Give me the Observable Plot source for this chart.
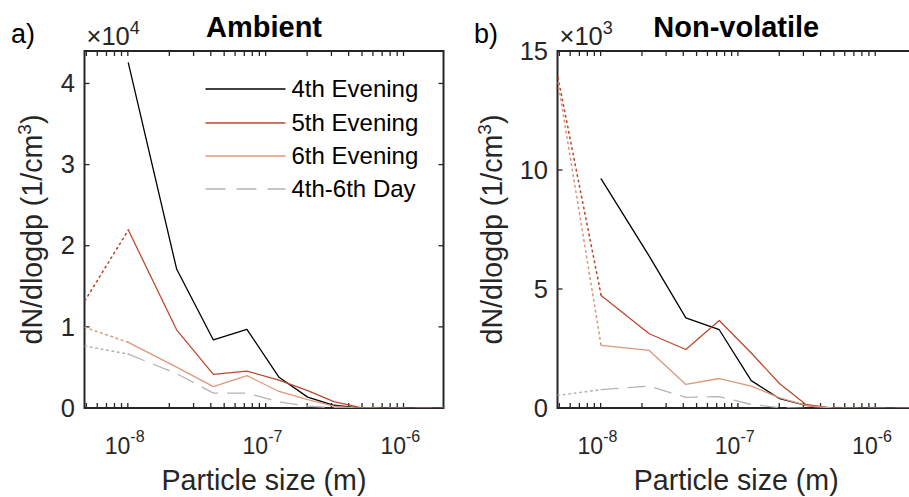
<!DOCTYPE html>
<html><head><meta charset="utf-8">
<script src="https://cdn.jsdelivr.net/npm/d3@7"></script>
<script src="https://cdn.jsdelivr.net/npm/@observablehq/plot@0.6"></script>
<style>
html,body{margin:0;padding:0;background:#fff;overflow:hidden;}
#root{position:relative;width:909px;height:497px;overflow:hidden;font-family:"Liberation Sans",Arial,sans-serif;}
#root svg{position:absolute;top:0;overflow:visible;}
</style></head><body><div id="root"></div>
<script>
// Particle size bins (m)
const sizes = [4.85e-9, 1e-8, 2.24e-8, 4.14e-8, 7.25e-8, 1.24e-7, 2.0e-7, 3.1e-7, 4.85e-7, 7.7e-7, 1.22e-6, 1.95e-6];
const seriesNames = ["4th Evening", "5th Evening", "6th Evening", "4th-6th Day"];
const seriesColors = ["#000000", "#bb4a2f", "#dc987c", "#b4b4b4"];

// a) Ambient, dN/dlogdp (1/cm^3)
const amb4th  = [NaN, 42600, 17200, 8450, 9750, 3850, 1400, 400, 50, 0, 0, 0];
const amb5th  = [13300, 22000, 9700, 4200, 4600, 3500, 2200, 850, 100, 0, 0, 0];
const amb6th  = [10000, 8150, 5100, 2700, 4050, 2100, 1100, 300, 20, 0, 0, 0];
const ambDay  = [7700, 6700, 4300, 1900, 1900, 800, 300, 100, 0, 0, 0, 0];

// b) Non-volatile, dN/dlogdp (1/cm^3)
const nv4th = [NaN, 9650, 6400, 3810, 3310, 1170, 410, 130, 20, 0, 0, 0];
const nv5th = [13900, 4750, 3140, 2480, 3700, 2330, 1040, 170, 20, 0, 0, 0];
const nv6th = [13700, 2650, 2440, 1010, 1260, 940, 450, 130, 10, 0, 0, 0];
const nvDay = [550, 790, 940, 470, 500, 170, 40, 0, 0, 0, 0, 0];

const xDomain = [4.85e-9, 1.95e-6];
const xMajor = [1e-8, 1e-7, 1e-6];
const ambYTicks = [0, 1e4, 2e4, 3e4, 4e4];
const nvYTicks = [0, 5e3, 10e3, 15e3];

const AX = "#262626";
const FONT = "Liberation Sans, Arial, Helvetica, sans-serif";

const xMinor = [];
for (let e = -9; e <= -6; e++) for (let k = 1; k <= 9; k++) {
  const v = k * Math.pow(10, e);
  if (v > xDomain[0] * 1.001 && v < xDomain[1] * 0.999) xMinor.push(v);
}

function panel({vals, yDomain, yTicks, yScaleDiv, left, width, mL, mR, exp, title, letter, legend}) {
  const mT = 51, mB = 89, H = 497;
  const fh = H - mT - mB, fw = width - mL - mR;
  const marks = [];
  vals.forEach((arr, si) => {
    const pts = arr.map((v, i) => ({x: sizes[i], y: v, i})).filter(d => !isNaN(d.y));
    const dotted = pts.filter(d => d.i <= 1);
    const main = pts.filter(d => d.i >= 1);
    const color = seriesColors[si];
    if (dotted.length === 2)
      marks.push(Plot.line(dotted, {x: "x", y: "y", stroke: color, strokeWidth: 1.6, strokeDasharray: "1.5,4", clip: true}));
    marks.push(Plot.line(main, {x: "x", y: "y", stroke: color, strokeWidth: 1.3,
      strokeDasharray: si === 3 ? "17,10" : null, clip: true}));
  });
  // x tick labels
  marks.push(Plot.text(xMajor, {x: d => d, frameAnchor: "bottom", text: () => "10", textAnchor: "end",
    lineAnchor: "bottom", dx: 2, dy: 45, fontSize: 23, fill: AX}));
  marks.push(Plot.text(xMajor, {x: d => d, frameAnchor: "bottom", text: d => String(Math.round(Math.log10(d))).replace("−", "-"),
    textAnchor: "start", lineAnchor: "bottom", dx: 2, dy: 33, fontSize: 16, fill: AX}));
  // y tick labels
  marks.push(Plot.text(yTicks, {y: d => d, frameAnchor: "left", text: d => String(d / yScaleDiv), textAnchor: "end",
    dx: -10, fontSize: 25.5, fill: AX}));

  const svg = Plot.plot({
    width, height: H, marginLeft: mL, marginRight: mR, marginTop: mT, marginBottom: mB,
    x: {type: "log", domain: xDomain, axis: null},
    y: {domain: yDomain, axis: null},
    style: {fontFamily: FONT, background: "transparent", overflow: "visible"},
    marks
  });
  svg.style.left = left + "px";
  const s = d3.select(svg);
  const X = v => svg.scale("x").apply(v), Y = v => svg.scale("y").apply(v);
  const x0 = mL, x1 = width - mR, y0 = mT, y1 = H - mB, tick = 5;
  // axes box and inward ticks (drawn beneath the data)
  const ax = s.insert("g", ":first-child").attr("stroke", AX).attr("fill", "none");
  xMinor.forEach(v => {
    const px = X(v);
    ax.append("line").attr("x1", px).attr("x2", px).attr("y1", y1).attr("y2", y1 - tick).attr("stroke-width", 1.3);
    ax.append("line").attr("x1", px).attr("x2", px).attr("y1", y0).attr("y2", y0 + tick).attr("stroke-width", 1.3);
  });
  yTicks.forEach(v => {
    const py = Y(v);
    ax.append("line").attr("x1", x0).attr("x2", x0 + tick).attr("y1", py).attr("y2", py).attr("stroke-width", 1.3);
    ax.append("line").attr("x1", x1).attr("x2", x1 - tick).attr("y1", py).attr("y2", py).attr("stroke-width", 1.3);
  });
  ax.append("rect").attr("x", x0).attr("y", y0).attr("width", x1 - x0).attr("height", y1 - y0).attr("stroke-width", 2);

  const cx = mL + fw / 2;
  // title
  s.append("text").attr("x", cx).attr("y", 37).attr("text-anchor", "middle")
    .attr("font-size", 29).attr("font-weight", "bold").attr("fill", "#000").text(title);
  // panel letter
  s.append("text").attr("x", letter.x).attr("y", 43).attr("text-anchor", "start")
    .attr("font-size", 27).attr("fill", "#000").text(letter.t);
  // exponent
  const e = s.append("text").attr("x", mL + 2).attr("y", 44.5).attr("text-anchor", "start")
    .attr("font-size", 25.5).attr("fill", AX);
  e.append("tspan").text("×10");
  e.append("tspan").attr("dy", -11).attr("font-size", 18).text(exp);
  // x label
  s.append("text").attr("x", cx).attr("y", 490).attr("text-anchor", "middle")
    .attr("font-size", 28.6).attr("fill", AX).text("Particle size (m)");
  // y label
  const yl = s.append("text").attr("transform", `translate(41.5,${mT + fh / 2}) rotate(-90)`)
    .attr("text-anchor", "middle").attr("font-size", 28.6).attr("fill", AX);
  yl.append("tspan").text("dN/dlogdp (1/cm");
  yl.append("tspan").attr("dy", -11).attr("font-size", 19).text("3");
  yl.append("tspan").attr("dy", 11).text(")");
  if (legend) {
    const ys = [89, 123, 156, 189];
    seriesNames.forEach((n, i) => {
      s.append("line").attr("x1", 205.5).attr("x2", 285.5).attr("y1", ys[i]).attr("y2", ys[i])
        .attr("stroke", seriesColors[i]).attr("stroke-width", 1.3)
        .attr("stroke-dasharray", i === 3 ? "20,11" : null);
      s.append("text").attr("x", 291.5).attr("y", ys[i]).attr("dy", "0.35em").attr("text-anchor", "start")
        .attr("font-size", 24).attr("fill", "#000").text(n);
    });
  }
  document.getElementById("root").appendChild(svg);
}

panel({vals: [amb4th, amb5th, amb6th, ambDay], yDomain: [0, 44000], yTicks: ambYTicks, yScaleDiv: 1e4,
  left: 0, width: 460, mL: 84.5, mR: 16.5, exp: "4", title: "Ambient", letter: {x: 11, t: "a)"}, legend: true});
panel({vals: [nv4th, nv5th, nv6th, nvDay], yDomain: [0, 15000], yTicks: nvYTicks, yScaleDiv: 1e3,
  left: 460, width: 460, mL: 97.5, mR: 5, exp: "3", title: "Non-volatile", letter: {x: 14, t: "b)"}, legend: false});
</script>
</body></html>
